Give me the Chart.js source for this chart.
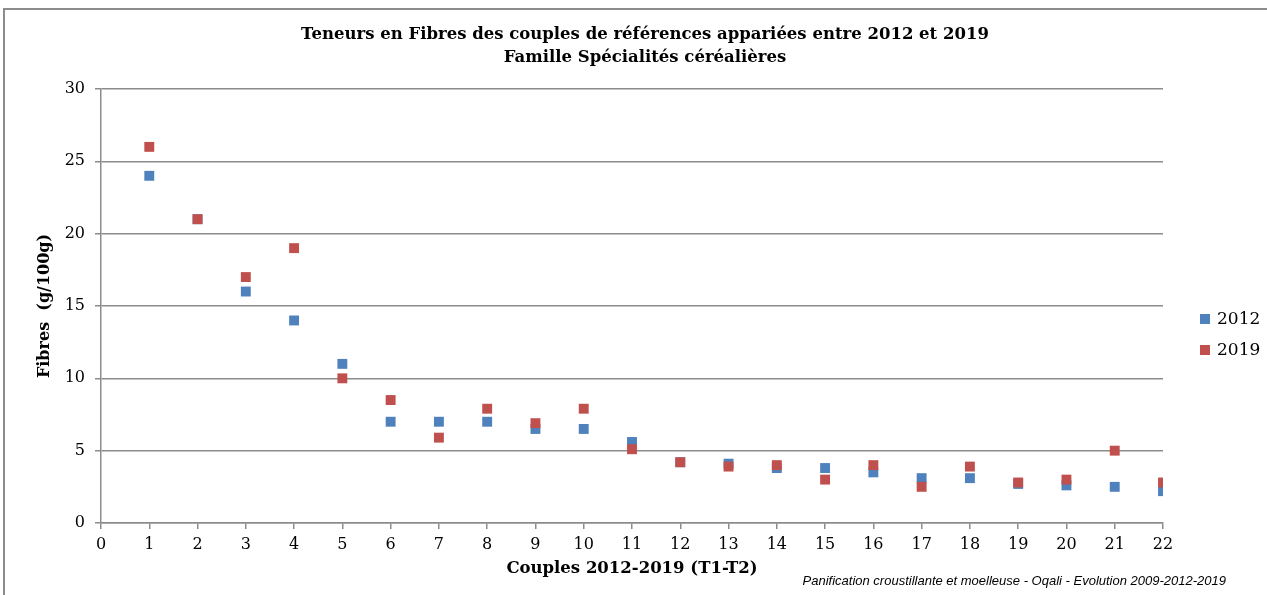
<!DOCTYPE html>
<html lang="fr">
<head>
<meta charset="utf-8">
<title>Teneurs en Fibres - Spécialités céréalières</title>
<script src="https://cdn.jsdelivr.net/npm/chart.js@4.4.1/dist/chart.umd.min.js"></script>
<style>
  html, body { margin: 0; padding: 0; background: #fff; overflow: hidden; }
  .frame { position: absolute; left: 3px; top: 8px; width: 1300px; height: 700px; border: 2px solid #8c8c8c; }
  #chart { position: absolute; left: 0; top: 0; }
</style>
</head>
<body>
<div class="frame"></div>
<canvas id="chart" width="1267" height="595"></canvas>
<script>
const couples = [1, 2, 3, 4, 5, 6, 7, 8, 9, 10, 11, 12, 13, 14, 15, 16, 17, 18, 19, 20, 21, 22];
const fibres2012 = [24, 21, 16, 14, 11, 7, 7, 7, 6.5, 6.5, 5.6, 4.2, 4.1, 3.8, 3.8, 3.5, 3.1, 3.1, 2.7, 2.6, 2.5, 2.2];
const fibres2019 = [26, 21, 17, 19, 10, 8.5, 5.9, 7.9, 6.9, 7.9, 5.1, 4.2, 3.9, 4.0, 3.0, 4.0, 2.5, 3.9, 2.8, 3.0, 5.0, 2.8];
const seriesNames = ['2012', '2019'];
const seriesColors = ['#4F81BD', '#C0504D'];

const titleLines = [
    'Teneurs en Fibres des couples de références appariées entre 2012 et 2019',
    'Famille Spécialités céréalières'
];
const sourceNote = 'Panification croustillante et moelleuse - Oqali - Evolution 2009-2012-2019';

const serif = "'DejaVu Serif', 'Liberation Serif', serif";
const gridGrey = '#8c8c8c';

const toPoints = values => couples.map((c, i) => ({ x: c, y: values[i] }));

// title block, legend boxes on the right and source line under the plot
const sideNotes = {
    id: 'sideNotes',
    afterDraw(chart) {
        const { ctx, chartArea } = chart;
        ctx.save();
        ctx.textBaseline = 'middle';
        ctx.fillStyle = '#000';

        ctx.textAlign = 'center';
        ctx.font = 'bold 16.5px ' + serif;
        titleLines.forEach((line, i) => {
            ctx.fillText(line, 645, 35 + i * 23, 690);
        });

        ctx.textAlign = 'left';
        ctx.font = '17px ' + serif;
        seriesNames.forEach((name, i) => {
            const y = 319 + i * 31;
            ctx.fillStyle = seriesColors[i];
            ctx.fillRect(chartArea.right + 37, y - 5, 10, 10);
            ctx.fillStyle = '#000';
            ctx.fillText(name, chartArea.right + 54, y + 1);
        });

        ctx.textAlign = 'right';
        ctx.font = "italic 13px 'Liberation Sans', 'DejaVu Sans', sans-serif";
        ctx.fillText(sourceNote, 1226, 581, 455);
        ctx.restore();
    }
};

new Chart(document.getElementById('chart'), {
    type: 'scatter',
    data: {
        datasets: [
            {
                label: seriesNames[0],
                data: toPoints(fibres2012),
                backgroundColor: seriesColors[0],
                borderColor: seriesColors[0],
                order: 1
            },
            {
                label: seriesNames[1],
                data: toPoints(fibres2019),
                backgroundColor: seriesColors[1],
                borderColor: seriesColors[1],
                order: 0
            }
        ]
    },
    options: {
        responsive: false,
        animation: false,
        layout: { padding: { left: 0, right: 104, top: 89, bottom: 0 } },
        elements: {
            point: { pointStyle: 'rect', radius: 7, borderWidth: 0, hoverRadius: 7 }
        },
        plugins: {
            legend: { display: false },
            tooltip: { enabled: false },
            title: { display: false }
        },
        scales: {
            x: {
                type: 'linear',
                min: 0,
                max: 22,
                ticks: { stepSize: 1, color: '#000', font: { family: serif, size: 16 }, padding: 6 },
                grid: { drawOnChartArea: false, drawTicks: true, tickLength: 6, color: gridGrey, lineWidth: 1.5 },
                border: { color: gridGrey, width: 1.5 },
                title: {
                    display: true,
                    text: 'Couples 2012-2019 (T1-T2)',
                    color: '#000',
                    font: { family: serif, size: 16.5, weight: 'bold' },
                    padding: { top: 0, bottom: 16 }
                },
                afterFit: scale => { scale.height = 72; }
            },
            y: {
                min: 0,
                max: 30,
                ticks: { stepSize: 5, color: '#000', font: { family: serif, size: 16 }, padding: 10 },
                grid: { color: gridGrey, lineWidth: 1.5, tickLength: 6 },
                border: { color: gridGrey, width: 1.5 },
                title: {
                    display: true,
                    text: 'Fibres  (g/100g)',
                    color: '#000',
                    font: { family: serif, size: 16, weight: 'bold' },
                    padding: { top: 35, bottom: 0 }
                },
                afterFit: scale => { scale.width = 101; }
            }
        }
    },
    plugins: [sideNotes]
});
</script>
</body>
</html>
